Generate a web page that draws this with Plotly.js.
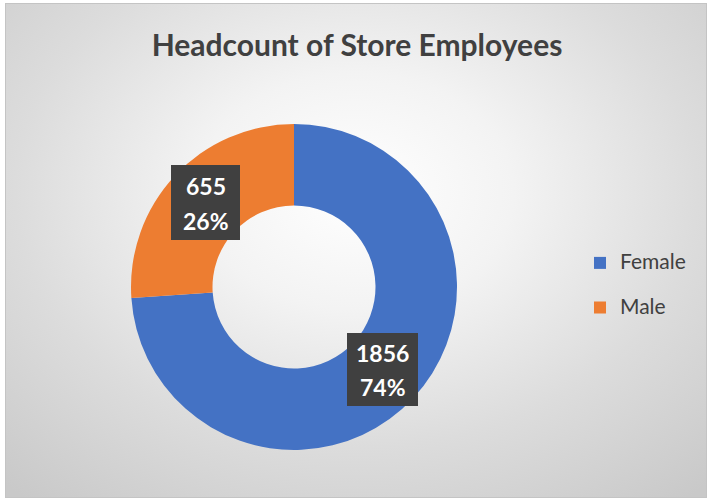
<!DOCTYPE html>
<html>
<head>
<meta charset="utf-8">
<script src="https://cdn.plot.ly/plotly-3.0.1.min.js"></script>
<style>
  html, body { margin: 0; padding: 0; background: #ffffff; }
  #frame {
    position: absolute; left: 5px; top: 3px; width: 700px; height: 493px;
    border: 1px solid #c4c4c4;
    background: radial-gradient(ellipse 75% 80% at 50% 38%, #ffffff 0%, #f3f3f3 30%, #dcdcdc 65%, #c9c9c9 100%);
  }
  #chart { position: absolute; left: 0; top: 0; width: 709px; height: 503px; }
</style>
</head>
<body>
<div id="frame"></div>
<div id="chart"></div>
<script>
const categories = ["Female", "Male"];
const headcounts = [1856, 655];
const sliceColors = ["#4472C4", "#ED7D31"];

const W = 709, H = 503;
const px = x => x / W;
const py = y => 1 - y / H;

const total = headcounts.reduce((a, b) => a + b, 0);
const pct = headcounts.map(v => Math.round(v / total * 100) + "%");

// legend entries: larger text with an empty second line for Excel-like row spacing
const legendLabels = categories.map(c => "<span style='font-size:21px'>" + c + "</span><br> ");

// label boxes (pixel rects) for each category
const boxes = [
  { x0: 347, x1: 418, y0: 333, y1: 406 },  // Female
  { x0: 171, x1: 240, y0: 165, y1: 240 }   // Male
];

const labelFont = { family: "Lato, 'Open Sans', sans-serif", size: 23, color: "#ffffff", weight: "bold" };
const shapes = [];
const annotations = [];
boxes.forEach((b, i) => {
  shapes.push({
    type: "rect", xref: "paper", yref: "paper",
    x0: px(b.x0), x1: px(b.x1), y0: py(b.y1), y1: py(b.y0),
    fillcolor: "#404040", line: { width: 0 }, layer: "above"
  });
  const cx = (b.x0 + b.x1) / 2;
  const h = b.y1 - b.y0;
  annotations.push({
    xref: "paper", yref: "paper", x: px(cx), y: py(b.y0 + h * 0.28),
    text: String(headcounts[i]), showarrow: false, font: labelFont,
    xanchor: "center", yanchor: "middle"
  });
  annotations.push({
    xref: "paper", yref: "paper", x: px(cx), y: py(b.y0 + h * 0.74),
    text: pct[i], showarrow: false, font: labelFont,
    xanchor: "center", yanchor: "middle"
  });
});

const data = [{
  type: "pie",
  labels: legendLabels,
  values: headcounts,
  hole: 0.5,
  sort: false,
  direction: "clockwise",
  rotation: 0,
  textinfo: "none",
  hoverinfo: "value+percent",
  marker: { colors: sliceColors, line: { color: "#ffffff", width: 0 } },
  domain: { x: [px(131), px(457)], y: [py(450), py(124)] }
}];

const layout = {
  width: W, height: H,
  margin: { l: 0, r: 0, t: 0, b: 0 },
  paper_bgcolor: "rgba(0,0,0,0)",
  plot_bgcolor: "rgba(0,0,0,0)",
  title: {
    text: "<b>Headcount of Store Employees</b>",
    font: { family: "Lato, 'Open Sans', sans-serif", size: 30, color: "#404040" },
    x: px(357), xanchor: "center", y: py(45), yanchor: "middle"
  },
  showlegend: true,
  legend: {
    x: px(580), xanchor: "left", y: py(246), yanchor: "top",
    bgcolor: "rgba(0,0,0,0)",
    valign: "top",
    font: { family: "Lato, 'Open Sans', sans-serif", size: 16, color: "#404040" },
    itemwidth: 30
  },
  shapes: shapes,
  annotations: annotations
};

Plotly.newPlot("chart", data, layout, { displayModeBar: false, staticPlot: true });
</script>
</body>
</html>
